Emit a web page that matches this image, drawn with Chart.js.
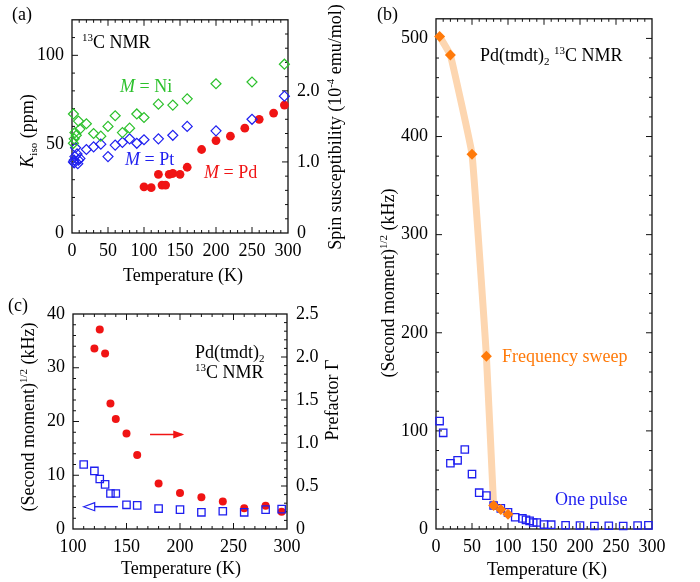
<!DOCTYPE html>
<html>
<head>
<meta charset="utf-8">
<script src="https://cdn.jsdelivr.net/npm/chart.js@4.4.0/dist/chart.umd.min.js"></script>
<style>
  body { margin: 0; background: #fff; }
  #wrap { position: relative; width: 700px; height: 582px; }
  canvas { position: absolute; left: 0; top: 0; }
</style>
</head>
<body>
<div id="wrap">
  <canvas id="chartA" width="700" height="582"></canvas>
  <canvas id="chartB" width="700" height="582"></canvas>
  <canvas id="chartC" width="700" height="582"></canvas>
</div>
<script>
// (a) Knight shift vs temperature
const tempPd = [100, 110, 120, 125, 130, 135, 140, 150, 160, 180, 200, 220, 240, 260, 280, 295];
const kisoPd = [26, 25.5, 33, 27, 27, 33, 33.5, 33, 37, 47, 52, 54.5, 59, 64, 67.5, 72];
const tempPt = [2, 3, 3, 4, 5, 7, 8, 9, 11, 20, 30, 40, 50, 60, 70, 80, 90, 100, 120, 140, 160, 200, 250, 295];
const kisoPt = [40, 41, 39.5, 43, 48, 44.5, 39, 41, 42, 47, 48.5, 50, 43, 49.5, 51, 53, 50.5, 52.5, 53, 55, 60, 57.5, 64, 77];
const tempNi = [2, 2, 3, 4, 6, 9, 11, 20, 30, 40, 50, 60, 70, 80, 90, 100, 120, 140, 160, 200, 250, 295];
const kisoNi = [67, 50.5, 53, 56.5, 55, 63, 58.5, 61.5, 56, 54.5, 60, 66, 56.5, 59, 67, 65, 72.5, 72, 75.5, 84, 85, 95];

// (c) prefactor and second moment above 100 K
const tempGamma = [120, 125, 130, 135, 140, 150, 160, 180, 200, 220, 240, 260, 280, 295];
const gamma = [2.10, 2.32, 2.04, 1.46, 1.28, 1.11, 0.86, 0.53, 0.42, 0.37, 0.32, 0.24, 0.27, 0.20];
const tempSM = [110, 120, 125, 130, 135, 140, 150, 160, 180, 200, 220, 240, 260, 280, 295];
const secondMoment = [12, 10.8, 9.3, 8.3, 6.6, 6.6, 4.5, 4.4, 3.8, 3.6, 3.1, 3.3, 3.1, 3.6, 3.7];

// (b) second moment, whole range
const tempSweep = [5, 20, 50, 70, 80, 90, 100];
const sweep = [502, 483, 382, 176, 24, 20, 15];
const tempPulseLow = [5, 10, 20, 30, 40, 50, 60, 70, 80, 90, 100];
const pulseLow = [110, 98, 67, 70, 81, 56, 37, 34, 24, 21, 17];
const tempPulse = tempPulseLow.concat(tempSM);
const pulse = pulseLow.concat(secondMoment);

const serif = '"Liberation Serif", "Times New Roman", serif';
const GREEN = '#2cc12c', BLUE = '#1f1ff0', RED = '#f01414', ORANGE = '#ff7a0a';

Chart.defaults.font.family = serif;
Chart.defaults.font.size = 18;
Chart.defaults.color = '#000';

const pts = (xs, ys) => xs.map((x, i) => ({ x: x, y: ys[i] }));

function drawRich(ctx, n) {
  const size = n.size || 18;
  const parts = n.parts.map(p => {
    const s = (p.sub || p.sup) ? Math.round(size * 0.62) : size;
    const font = (p.it ? 'italic ' : '') + s + 'px ' + serif;
    ctx.font = font;
    return { t: p.t, font: font, w: ctx.measureText(p.t).width, dy: p.sup ? -size * 0.38 : (p.sub ? size * 0.22 : 0) };
  });
  const total = parts.reduce((a, p) => a + p.w, 0);
  ctx.save();
  ctx.translate(n.x, n.y);
  if (n.rot) ctx.rotate(n.rot * Math.PI / 180);
  ctx.fillStyle = n.color || '#000';
  ctx.textBaseline = 'alphabetic';
  ctx.textAlign = 'left';
  let x = n.align === 'left' ? 0 : -total / 2;
  parts.forEach(p => {
    ctx.font = p.font;
    ctx.fillText(p.t, x, size * 0.32 + p.dy);
    x += p.w;
  });
  ctx.restore();
}

function drawArrow(chart, a) {
  const { ctx } = chart;
  const xs = chart.scales.x, ys = chart.scales[a.axis];
  const x1 = xs.getPixelForValue(a.from), x2 = xs.getPixelForValue(a.to);
  const y = ys.getPixelForValue(a.y);
  const dir = Math.sign(x2 - x1);
  const hl = 11, hw = 4;
  ctx.save();
  ctx.strokeStyle = a.color;
  ctx.fillStyle = a.color;
  ctx.lineWidth = 1.5;
  ctx.beginPath();
  ctx.moveTo(x1, y);
  ctx.lineTo(x2 - dir * (a.open ? hl : 2), y);
  ctx.stroke();
  ctx.beginPath();
  ctx.moveTo(x2, y);
  ctx.lineTo(x2 - dir * hl, y - hw);
  ctx.lineTo(x2 - dir * hl, y + hw);
  ctx.closePath();
  if (a.open) { ctx.lineWidth = 1.2; ctx.stroke(); } else { ctx.fill(); }
  ctx.restore();
}

// frame with inward ticks, texts and arrows of one panel
function panelDecor(spec) {
  return {
    id: 'decor',
    beforeDatasetsDraw(chart) {
      const { ctx, chartArea: a } = chart;
      ctx.save();
      ctx.strokeStyle = '#111';
      ctx.lineWidth = 1.3;
      ctx.strokeRect(a.left, a.top, a.right - a.left, a.bottom - a.top);
      ctx.lineWidth = 1;
      spec.ticks.forEach(sd => {
        const sc = chart.scales[sd.scale];
        const n = Math.round((sc.max - sc.min) / sd.minor);
        for (let i = 1; i < n; i++) {
          const v = sc.min + i * sd.minor;
          const r = v / sd.major;
          const len = Math.abs(r - Math.round(r)) < 1e-6 ? 6 : 3;
          const p = sc.getPixelForValue(v);
          ctx.beginPath();
          if (sd.side === 'bottom') { ctx.moveTo(p, a.bottom); ctx.lineTo(p, a.bottom - len); }
          if (sd.side === 'top') { ctx.moveTo(p, a.top); ctx.lineTo(p, a.top + len); }
          if (sd.side === 'left') { ctx.moveTo(a.left, p); ctx.lineTo(a.left + len, p); }
          if (sd.side === 'right') { ctx.moveTo(a.right, p); ctx.lineTo(a.right - len, p); }
          ctx.stroke();
        }
      });
      ctx.restore();
    },
    afterDraw(chart) {
      (spec.arrows || []).forEach(ar => drawArrow(chart, ar));
      spec.notes.forEach(n => drawRich(chart.ctx, n));
    }
  };
}

function axis(min, max, step, extra) {
  const opts = Object.assign({
    type: 'linear', min: min, max: max,
    grid: { display: false, drawTicks: false },
    border: { display: false }
  }, extra);
  opts.ticks = Object.assign({ stepSize: step, padding: 7, maxRotation: 0, autoSkip: false, includeBounds: false }, extra && extra.ticks);
  return opts;
}

function area(l, t, r, b, right) {
  // y axes are 50 px wide, x axis 40 px high
  return { left: l - 50, top: t, right: 700 - r - (right ? 50 : 0), bottom: 582 - b - 40 };
}

const fitY = s => { s.width = 50; };
const fitX = s => { s.height = 40; };
const baseOpts = {
  responsive: false,
  animation: false,
  plugins: { legend: { display: false }, tooltip: { enabled: false } }
};

// ---------- panel (a) ----------
new Chart(document.getElementById('chartA'), {
  type: 'scatter',
  data: {
    datasets: [
      { data: pts(tempNi, kisoNi), pointStyle: 'rectRot', pointRadius: 5, borderColor: GREEN, backgroundColor: 'rgba(0,0,0,0)', borderWidth: 1.2, clip: false },
      { data: pts(tempPt, kisoPt), pointStyle: 'rectRot', pointRadius: 5, borderColor: BLUE, backgroundColor: 'rgba(0,0,0,0)', borderWidth: 1.2, clip: false },
      { data: pts(tempPd, kisoPd), pointStyle: 'circle', pointRadius: 4.4, borderColor: RED, backgroundColor: RED, borderWidth: 0, clip: false }
    ]
  },
  options: Object.assign({}, baseOpts, {
    layout: { padding: area(72, 16, 288, 233, true) },
    scales: {
      x: axis(0, 300, 50, { afterFit: fitX }),
      y: axis(0, 120, 50, { afterFit: fitY, ticks: { padding: 8 } }),
      y2: axis(0, 3, 1, { position: 'right', afterFit: fitY, ticks: { padding: 9, callback: v => v > 2 ? null : (v === 0 ? '0' : v.toFixed(1)) } })
    }
  }),
  plugins: [panelDecor({
    ticks: [
      { scale: 'x', side: 'bottom', major: 50, minor: 10 },
      { scale: 'x', side: 'top', major: 50, minor: 10 },
      { scale: 'y', side: 'left', major: 50, minor: 10 },
      { scale: 'y2', side: 'right', major: 1, minor: 0.2 }
    ],
    notes: [
      { x: 12, y: 14, align: 'left', parts: [{ t: '(a)' }] },
      { x: 82, y: 42, align: 'left', parts: [{ t: '13', sup: true }, { t: 'C NMR' }] },
      { x: 120, y: 86, align: 'left', color: GREEN, parts: [{ t: 'M', it: true }, { t: ' = Ni' }] },
      { x: 125, y: 159, align: 'left', color: BLUE, parts: [{ t: 'M', it: true }, { t: ' = Pt' }] },
      { x: 204, y: 172, align: 'left', color: RED, parts: [{ t: 'M', it: true }, { t: ' = Pd' }] },
      { x: 27, y: 131, rot: -90, parts: [{ t: 'K', it: true }, { t: 'iso', sub: true }, { t: ' (ppm)' }] },
      { x: 335, y: 127, rot: -90, parts: [{ t: 'Spin susceptibility (10' }, { t: '-4', sup: true }, { t: ' emu/mol)' }] },
      { x: 183, y: 275, parts: [{ t: 'Temperature (K)' }] }
    ]
  })]
});

// ---------- panel (b) ----------
new Chart(document.getElementById('chartB'), {
  type: 'scatter',
  data: {
    datasets: [
      { data: pts(tempSweep.slice(0, 5), sweep.slice(0, 5)), showLine: true, pointRadius: 0, borderColor: '#fdd6b0', borderWidth: 7, borderCapStyle: 'round', borderJoinStyle: 'round', tension: 0.08, order: 3 },
      { data: pts(tempPulse, pulse), pointStyle: 'rect', pointRadius: 5.2, borderColor: BLUE, backgroundColor: 'rgba(0,0,0,0)', borderWidth: 1.3, order: 2, clip: false },
      { data: pts(tempSweep, sweep), pointStyle: 'rectRot', pointRadius: 5.5, borderColor: ORANGE, backgroundColor: ORANGE, borderWidth: 0, order: 1, clip: false }
    ]
  },
  options: Object.assign({}, baseOpts, {
    layout: { padding: area(436, 17, 652, 529, false) },
    scales: {
      x: axis(0, 300, 50, { afterFit: fitX }),
      y: axis(0, 520, 100, { afterFit: fitY, ticks: { padding: 8 } })
    }
  }),
  plugins: [panelDecor({
    ticks: [
      { scale: 'x', side: 'bottom', major: 50, minor: 10 },
      { scale: 'x', side: 'top', major: 50, minor: 10 },
      { scale: 'y', side: 'left', major: 100, minor: 20 },
      { scale: 'y', side: 'right', major: 100, minor: 20 }
    ],
    notes: [
      { x: 377, y: 14, align: 'left', parts: [{ t: '(b)' }] },
      { x: 480, y: 55, align: 'left', parts: [{ t: 'Pd(tmdt)' }, { t: '2', sub: true }, { t: ' ' }, { t: '13', sup: true }, { t: 'C NMR' }] },
      { x: 502, y: 356, align: 'left', color: ORANGE, parts: [{ t: 'Frequency sweep' }] },
      { x: 555, y: 499, align: 'left', color: BLUE, parts: [{ t: 'One pulse' }] },
      { x: 388, y: 283, rot: -90, parts: [{ t: '(Second moment)' }, { t: '1/2', sup: true }, { t: ' (kHz)' }] },
      { x: 547, y: 569, parts: [{ t: 'Temperature (K)' }] }
    ]
  })]
});

// ---------- panel (c) ----------
new Chart(document.getElementById('chartC'), {
  type: 'scatter',
  data: {
    datasets: [
      { data: pts(tempSM, secondMoment), yAxisID: 'y', pointStyle: 'rect', pointRadius: 5.2, borderColor: BLUE, backgroundColor: 'rgba(0,0,0,0)', borderWidth: 1.3, clip: false },
      { data: pts(tempGamma, gamma), yAxisID: 'y2', pointStyle: 'circle', pointRadius: 4, borderColor: RED, backgroundColor: RED, borderWidth: 0, clip: false }
    ]
  },
  options: Object.assign({}, baseOpts, {
    layout: { padding: area(73, 314, 287, 529, true) },
    scales: {
      x: axis(100, 300, 50, { afterFit: fitX }),
      y: axis(0, 40, 10, { afterFit: fitY, ticks: { padding: 8 } }),
      y2: axis(0, 2.5, 0.5, { position: 'right', afterFit: fitY, ticks: { padding: 9 } })
    }
  }),
  plugins: [panelDecor({
    ticks: [
      { scale: 'x', side: 'bottom', major: 50, minor: 10 },
      { scale: 'x', side: 'top', major: 50, minor: 10 },
      { scale: 'y', side: 'left', major: 10, minor: 2 },
      { scale: 'y2', side: 'right', major: 0.5, minor: 0.1 }
    ],
    arrows: [
      { axis: 'y2', from: 172, to: 204, y: 1.1, color: RED },
      { axis: 'y', from: 142, to: 110, y: 4.15, color: BLUE, open: true }
    ],
    notes: [
      { x: 8, y: 305, align: 'left', parts: [{ t: '(c)' }] },
      { x: 195, y: 352, align: 'left', parts: [{ t: 'Pd(tmdt)' }, { t: '2', sub: true }] },
      { x: 195, y: 372, align: 'left', parts: [{ t: '13', sup: true }, { t: 'C NMR' }] },
      { x: 28, y: 417, rot: -90, parts: [{ t: '(Second moment)' }, { t: '1/2', sup: true }, { t: ' (kHz)' }] },
      { x: 332, y: 400, rot: -90, parts: [{ t: 'Prefactor Γ' }] },
      { x: 181, y: 568, parts: [{ t: 'Temperature (K)' }] }
    ]
  })]
});
</script>
</body>
</html>
